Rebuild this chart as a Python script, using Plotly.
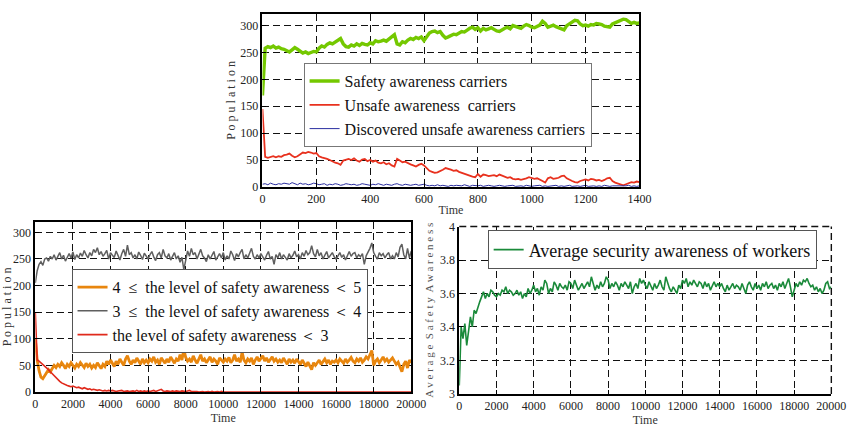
import plotly.graph_objects as go

# ---------------- Top chart (t = 0..1400, step 10) ----------------
top_step = 10
safety_carriers = [
    170, 258, 261, 259, 262, 258, 260, 257, 256, 254,
    251, 255, 259, 256, 252, 249, 251, 248, 250, 252,
    251, 258, 262, 260, 265, 268, 266, 270, 274, 276,
    266, 261, 260, 264, 262, 266, 263, 267, 265, 264,
    268, 266, 272, 270, 271, 273, 271, 275, 277, 283,
    266, 264, 270, 268, 273, 276, 274, 278, 276, 279,
    272, 280, 286, 289, 290, 287, 289, 282, 277, 279,
    281, 284, 283, 286, 289, 288, 292, 295, 297, 293,
    296, 290, 295, 292, 294, 296, 293, 290, 289, 293,
    295, 297, 294, 300, 298, 297, 295, 299, 302, 300,
    297, 296, 299, 301, 308, 304, 297, 299, 301, 298,
    296, 293, 292, 300, 304, 307, 310, 309, 303, 300,
    301, 299, 302, 301, 304, 303, 302, 299, 298, 297,
    303, 305, 308, 309, 312, 311, 307, 304, 306, 304,
    305,
]
unsafe_carriers = [
    145, 56, 54, 55, 57, 55, 57, 56, 59, 60,
    62, 58, 55, 57, 61, 64, 63, 65, 64, 62,
    63, 57, 55, 54, 52, 50, 47, 45, 44, 41,
    49, 51, 52, 50, 53, 49, 47, 51, 52, 48,
    50, 47, 49, 45, 44, 46, 42, 44, 40, 38,
    52, 49, 46, 47, 44, 42, 40, 38, 41, 43,
    40, 35, 30, 28, 26, 27, 29, 32, 35, 34,
    32, 30, 31, 28, 26, 24, 22, 20, 19, 18,
    24, 19, 23, 22, 20, 21, 22, 20, 23, 21,
    19, 17, 18, 15, 14, 15, 13, 14, 16, 18,
    17, 15, 16, 14, 11, 8, 16, 18, 15, 16,
    17, 20, 21, 16, 13, 11, 9, 8, 11, 13,
    14, 12, 15, 14, 12, 13, 11, 13, 16, 17,
    11, 8, 6, 4, 3, 5, 7, 9, 8, 10,
    9,
]
discovered_unsafe = [
    5, 6, 4, 7, 5, 4, 6, 5, 7, 6,
    5, 8, 6, 4, 7, 5, 6, 4, 5, 7,
    6, 4, 5, 6, 3, 5, 4, 6, 5, 3,
    4, 6, 5, 4, 5, 3, 4, 6, 5, 4,
    3, 5, 4, 6, 4, 3, 5, 4, 3, 5,
    6, 4, 3, 5, 4, 3, 4, 5, 3, 4,
    5, 3, 2, 3, 2, 4, 2, 3, 2, 1,
    3, 2, 3, 2, 2, 4, 2, 1, 3, 2,
    2, 3, 1, 2, 3, 2, 1, 2, 3, 2,
    1, 2, 2, 3, 1, 2, 2, 1, 3, 2,
    1, 2, 2, 3, 1, 2, 1, 2, 2, 3,
    1, 2, 1, 2, 3, 1, 2, 2, 1, 2,
    3, 1, 2, 2, 1, 2, 1, 3, 2, 1,
    2, 2, 1, 2, 1, 2, 3, 1, 2, 1,
    2,
]

# ---------------- Bottom-left chart (t = 0..20000, step 100) ----------------
bl_step = 100
level_4_5 = [
    100, 60, 40, 28, 25, 30, 35, 42, 38, 45,
    50, 46, 52, 48, 55, 50, 44, 52, 48, 55,
    50, 45, 52, 48, 55, 50, 46, 54, 48, 52,
    45, 50, 46, 55, 50, 44, 52, 48, 58, 52,
    60, 54, 48, 58, 52, 62, 55, 50, 62, 68,
    58, 52, 60, 55, 64, 58, 52, 62, 55, 60,
    55, 62, 58, 66, 56, 60, 52, 64, 58, 54,
    62, 56, 66, 60, 54, 62, 58, 70, 60, 80,
    65, 58, 62, 56, 68, 60, 54, 62, 70, 58,
    62, 55, 60, 66, 56, 62, 58, 52, 64, 60,
    56, 62, 58, 65, 55, 60, 70, 58, 62, 56,
    75, 60, 55, 62, 58, 64, 52, 60, 66, 58,
    62, 68, 58, 64, 56, 60, 66, 58, 62, 56,
    60, 55, 64, 58, 52, 62, 56, 60, 54, 62,
    58, 52, 60, 55, 48, 56, 50, 42, 55, 50,
    55, 60, 52, 58, 62, 55, 60, 52, 58, 56,
    60, 55, 62, 58, 54, 62, 56, 60, 65, 58,
    55, 62, 58, 64, 56, 60, 66, 62, 70, 78,
    50, 58, 62, 55, 60, 66, 58, 62, 56, 60,
    64, 58, 52, 56, 48, 38, 52, 58, 45, 60,
    55,
]
level_3_4 = [
    205, 228, 240, 245, 238, 250, 252, 246, 255, 250,
    258, 248, 255, 262, 250, 257, 246, 254, 260, 252,
    263, 249, 258, 252, 261, 255, 266, 258, 252, 262,
    256, 268, 262, 271, 258, 264, 255, 260, 266, 250,
    262, 257, 253, 265, 256, 248, 260, 268, 255, 276,
    258, 262, 252, 258, 250, 263, 257, 249, 261, 255,
    250, 258, 264, 254, 247, 258, 262, 252, 268, 256,
    252, 260, 248, 255, 262, 250, 256, 244, 253, 230,
    248, 265, 255, 270, 258, 262, 250, 258, 268, 256,
    252, 245, 258, 250, 256, 264, 248, 255, 260, 252,
    262, 248, 256, 250, 265, 258, 247, 260, 254, 262,
    268, 250, 258, 252, 262, 270, 255, 250, 258, 252,
    260, 254, 248, 257, 264, 250, 255, 240, 258, 252,
    262, 250, 258, 253, 248, 260, 252, 257, 265, 254,
    258, 250, 262, 255, 266, 258, 262, 275, 260, 254,
    268, 256, 262, 250, 258, 264, 252, 258, 262, 254,
    250, 256, 262, 253, 258, 248, 257, 264, 255, 260,
    262, 252, 258, 254, 260, 240, 256, 262, 270, 280,
    262, 255, 250, 262, 256, 260, 252, 258, 262, 250,
    256, 250, 262, 254, 272, 278, 258, 250, 270, 252,
    265,
]
level_below_3 = [
    150, 60, 58, 55, 52, 48, 45, 42, 38, 34,
    30, 26, 22, 20, 17, 15, 14, 12, 11, 10,
    11, 9, 8, 9, 7, 6, 8, 6, 5, 6,
    4, 5, 4, 3, 4, 3, 2, 3, 2, 3,
    2, 3, 2, 1, 2, 2, 3, 1, 2, 2,
    1, 2, 2, 1, 3, 1, 2, 1, 2, 1,
    2, 1, 2, 3, 1, 2, 4, 5, 2, 1,
    2, 1, 1, 2, 1, 2, 1, 1, 2, 1,
    1, 2, 3, 1, 1, 2, 1, 0, 1, 1,
    0, 1, 1, 0, 1, 0, 1, 1, 0, 1,
    0, 0, 1, 0, 0, 0, 0, 0, 0, 0,
    0, 0, 0, 0, 0, 0, 0, 0, 0, 0,
    0, 0, 0, 0, 0, 0, 0, 0, 0, 0,
    0, 0, 0, 0, 0, 0, 0, 0, 0, 0,
    0, 0, 0, 0, 0, 0, 0, 0, 0, 0,
    0, 0, 0, 0, 0, 0, 0, 0, 0, 0,
    0, 0, 0, 0, 0, 0, 0, 0, 0, 0,
    0, 0, 0, 0, 0, 0, 0, 0, 0, 0,
    0, 0, 0, 0, 0, 0, 0, 0, 0, 0,
    0, 0, 0, 0, 0, 0, 0, 0, 0, 0,
    0,
]

# ---------------- Bottom-right chart (t = 0..20000, step 100) ----------------
br_step = 100
avg_awareness = [
    3.05, 3.40, 3.33, 3.42, 3.29, 3.38, 3.46, 3.40, 3.50, 3.48,
    3.52, 3.55, 3.58, 3.61, 3.57, 3.60, 3.58, 3.62, 3.61, 3.59,
    3.58, 3.60, 3.59, 3.62, 3.61, 3.64, 3.60, 3.62, 3.61, 3.59,
    3.60, 3.62, 3.59, 3.61, 3.57, 3.60, 3.58, 3.63, 3.60, 3.62,
    3.65, 3.61, 3.63, 3.59, 3.64, 3.62, 3.68, 3.66, 3.60, 3.63,
    3.61, 3.67, 3.65, 3.62, 3.66, 3.64, 3.63, 3.65, 3.62, 3.67,
    3.66, 3.63, 3.68, 3.65, 3.62, 3.64, 3.66, 3.63, 3.65, 3.67,
    3.64, 3.70, 3.66, 3.62, 3.65, 3.63, 3.67, 3.64, 3.66, 3.70,
    3.68, 3.63, 3.66, 3.64, 3.67, 3.65, 3.62, 3.66, 3.64, 3.67,
    3.65, 3.63, 3.67, 3.60, 3.64, 3.66, 3.63, 3.69, 3.66, 3.68,
    3.65, 3.63, 3.67, 3.64, 3.62, 3.66, 3.63, 3.65, 3.68, 3.64,
    3.62, 3.70, 3.66, 3.63, 3.61, 3.64, 3.62, 3.60, 3.65, 3.63,
    3.68, 3.66, 3.69, 3.64, 3.67, 3.65, 3.68, 3.66, 3.64, 3.67,
    3.66, 3.63, 3.67, 3.64, 3.66, 3.62, 3.65, 3.67, 3.64, 3.66,
    3.64, 3.66, 3.63, 3.61, 3.65, 3.62, 3.64, 3.66, 3.63, 3.65,
    3.64, 3.62, 3.66, 3.63, 3.60, 3.65, 3.67, 3.64, 3.62, 3.66,
    3.63, 3.65, 3.62, 3.66, 3.64, 3.67, 3.63, 3.65, 3.66, 3.63,
    3.65, 3.62, 3.66, 3.64, 3.67, 3.63, 3.66, 3.69, 3.64, 3.58,
    3.62, 3.66, 3.64, 3.67, 3.65, 3.68, 3.67, 3.69, 3.66, 3.64,
    3.65, 3.62, 3.64, 3.61, 3.63, 3.60, 3.62, 3.66, 3.67, 3.63,
    3.64,
]

top_xticks = list(range(0, 1401, 200))
pop_yticks = list(range(0, 301, 50))
long_xticks = list(range(0, 20001, 2000))
avg_yticks = [3, 3.2, 3.4, 3.6, 3.8, 4]

W, H = 862, 428
FONT = "Liberation Serif"


def px_x(p):
    return p / W


def px_y(p):
    return 1 - p / H


t_top = [i * top_step for i in range(len(safety_carriers))]
t_bl = [i * bl_step for i in range(len(level_4_5))]
t_br = [i * br_step for i in range(len(avg_awareness))]

fig = go.Figure()

# top
fig.add_trace(go.Scatter(x=t_top, y=safety_carriers, mode="lines", name="Safety awareness carriers",
                         line=dict(color="#74c800", width=3.4), xaxis="x", yaxis="y", legend="legend"))
fig.add_trace(go.Scatter(x=t_top, y=unsafe_carriers, mode="lines", name="Unsafe awareness  carriers",
                         line=dict(color="#e8311e", width=1.8), xaxis="x", yaxis="y", legend="legend"))
fig.add_trace(go.Scatter(x=t_top, y=discovered_unsafe, mode="lines", name="Discovered unsafe awareness carriers",
                         line=dict(color="#2b2fa0", width=1), xaxis="x", yaxis="y", legend="legend"))

# bottom-left
fig.add_trace(go.Scatter(x=t_bl, y=level_4_5, mode="lines", name="4  ≤  the level of safety awareness ＜ 5",
                         line=dict(color="#e8860e", width=2.8), xaxis="x2", yaxis="y2", legend="legend2"))
fig.add_trace(go.Scatter(x=t_bl, y=level_3_4, mode="lines", name="3  ≤  the level of safety awareness ＜ 4",
                         line=dict(color="#5f5f5f", width=1.5), xaxis="x2", yaxis="y2", legend="legend2"))
fig.add_trace(go.Scatter(x=t_bl, y=level_below_3, mode="lines", name="the level of safety awareness ＜ 3",
                         line=dict(color="#e02a1c", width=1.6), xaxis="x2", yaxis="y2", legend="legend2"))

# bottom-right
fig.add_trace(go.Scatter(x=t_br, y=avg_awareness, mode="lines", name="Average security awareness of workers",
                         line=dict(color="#1a8a3a", width=1.6), xaxis="x3", yaxis="y3", legend="legend3"))

tickfont = dict(family=FONT, size=12, color="#222")
titlefont = dict(family=FONT, size=12, color="#333")
grid = dict(showgrid=True, gridcolor="#111", gridwidth=1, griddash="7px,4px",
            ticks="inside", ticklen=4, tickcolor="#000", tickfont=tickfont,
            showline=True, linecolor="#000", linewidth=1.6, zeroline=False)

fig.update_layout(
    width=W, height=H,
    margin=dict(l=0, r=0, t=0, b=0),
    paper_bgcolor="white", plot_bgcolor="white",
    font=dict(family=FONT, color="#222"),
    showlegend=True,
    xaxis=dict(domain=[px_x(265), px_x(650)], range=[0, 1400], tickvals=top_xticks,
               ticktext=[str(v) for v in top_xticks],
               anchor="y", mirror=True,
               title=dict(text="Time", font=titlefont, standoff=0), **grid),
    yaxis=dict(domain=[px_y(186), px_y(7)], range=[0, 322], tickvals=pop_yticks,
               ticktext=[str(v) for v in pop_yticks],
               anchor="x", mirror=True,
               title=dict(text="P o p u l a t i o n", font=titlefont, standoff=2), **grid),
    xaxis2=dict(domain=[px_x(33), px_x(417)], range=[0, 20000], tickvals=long_xticks,
                ticktext=[str(v) for v in long_xticks],
                anchor="y2", mirror=True,
                title=dict(text="Time", font=titlefont, standoff=0), **grid),
    yaxis2=dict(domain=[px_y(398), px_y(222)], range=[0, 320], tickvals=pop_yticks,
                ticktext=[str(v) for v in pop_yticks],
                anchor="x2", mirror=True,
                title=dict(text="P o p u l a t i o n", font=titlefont, standoff=2), **grid),
    xaxis3=dict(domain=[px_x(466), px_x(846)], range=[0, 20000], tickvals=long_xticks,
                ticktext=[str(v) for v in long_xticks],
                anchor="y3", mirror=False,
                title=dict(text="Time", font=titlefont, standoff=0), **grid),
    yaxis3=dict(domain=[px_y(400), px_y(227)], range=[3, 4], tickvals=avg_yticks,
                ticktext=["3", "3.2", "3.4", "3.6", "3.8", "4"],
                anchor="x3", mirror=False,
                title=dict(text="A v e r a g e  S a f e t y  A w a r e n e s s",
                           font=dict(family=FONT, size=11, color="#555"), standoff=4), **grid),
    legend=dict(x=px_x(307), y=px_y(58), xanchor="left", yanchor="top",
                bgcolor="white", bordercolor="#777", borderwidth=1,
                font=dict(family=FONT, size=16, color="#111"), tracegroupgap=0),
    legend2=dict(x=px_x(70), y=px_y(271), xanchor="left", yanchor="top",
                 bgcolor="white", bordercolor="#555", borderwidth=1,
                 font=dict(family=FONT, size=16, color="#111"), tracegroupgap=0),
    legend3=dict(x=px_x(495), y=px_y(231), xanchor="left", yanchor="top",
                 bgcolor="white", bordercolor="#555", borderwidth=1,
                 font=dict(family=FONT, size=18, color="#111"), tracegroupgap=0),
)

shapes = []
# dashed top and right frame of bottom-right chart
shapes.append(dict(type="line", xref="x3 domain", yref="y3 domain", x0=0, x1=1, y0=1, y1=1,
                   line=dict(color="#111", width=1.4, dash="7px,4px")))
shapes.append(dict(type="line", xref="x3 domain", yref="y3 domain", x0=1, x1=1, y0=0, y1=1,
                   line=dict(color="#111", width=1.4, dash="7px,4px")))
fig.update_layout(shapes=shapes)

fig.write_html("out.html")
